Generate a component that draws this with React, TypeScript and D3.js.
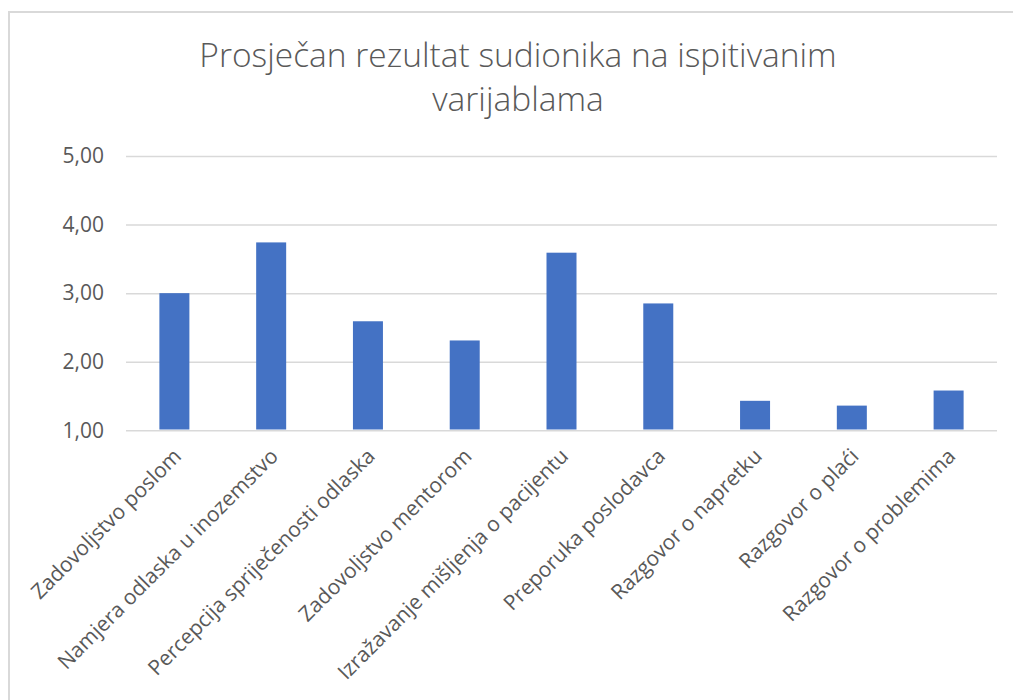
import React, { useEffect, useRef } from 'react';
import * as d3 from 'd3';

const categories = [
  'Zadovoljstvo poslom',
  'Namjera odlaska u inozemstvo',
  'Percepcija spriječenosti odlaska',
  'Zadovoljstvo mentorom',
  'Izražavanje mišljenja o pacijentu',
  'Preporuka poslodavca',
  'Razgovor o napretku',
  'Razgovor o plaći',
  'Razgovor o problemima',
];
const values = [3.0, 3.74, 2.59, 2.31, 3.59, 2.85, 1.43, 1.36, 1.58];
const yTicks = [1, 2, 3, 4, 5];
const titleLines = ['Prosječan rezultat sudionika na ispitivanim', 'varijablama'];

const App = () => {
  const svgRef = useRef<SVGSVGElement>(null);
  const width = 1013;
  const height = 700;
  const margin = { left: 126, right: 16, top: 156, bottom: 270 };

  useEffect(() => {
    const svg = d3.select(svgRef.current);
    svg.selectAll('*').remove();

    // chart frame
    svg.append('rect')
      .attr('x', 9).attr('y', 12)
      .attr('width', width + 20).attr('height', height + 20)
      .attr('fill', '#fff')
      .attr('stroke', '#d9d9d9').attr('stroke-width', 2);

    const x = d3.scaleBand()
      .domain(categories)
      .range([margin.left, width - margin.right])
      .paddingInner(0.69)
      .paddingOuter(0.345);

    const y = d3.scaleLinear()
      .domain([1, 5])
      .range([height - margin.bottom + 0.3, margin.top]);

    const font = '"Open Sans", sans-serif';

    // title
    svg.append('g')
      .selectAll('text')
      .data(titleLines)
      .enter()
      .append('text')
      .attr('x', 518)
      .attr('y', (d, i) => 67 + i * 44)
      .attr('text-anchor', 'middle')
      .attr('font-family', font)
      .attr('font-weight', 300)
      .attr('font-size', 33.5)
      .attr('fill', '#595959')
      .text(d => d);

    // gridlines + y labels
    const yAxis = d3.axisLeft(y)
      .tickValues(yTicks)
      .tickSize(-(width - margin.right - margin.left))
      .tickPadding(22)
      .tickFormat(d => d3.format('.2f')(d as number).replace('.', ','));

    const gy = svg.append('g')
      .attr('transform', `translate(${margin.left},0)`)
      .call(yAxis);
    gy.select('.domain').remove();
    gy.selectAll('.tick line').attr('stroke', '#d9d9d9').attr('stroke-width', 1.5);
    gy.selectAll('.tick text')
      .attr('font-family', font)
      .attr('font-size', 21)
      .attr('fill', '#595959');

    // bars
    svg.append('g')
      .selectAll('rect')
      .data(values)
      .enter()
      .append('rect')
      .attr('x', (d, i) => x(categories[i]) as number)
      .attr('y', d => y(d))
      .attr('width', x.bandwidth())
      .attr('height', d => y(1) - y(d) - 0.8)
      .attr('fill', '#4472c4');

    // x labels
    svg.append('g')
      .selectAll('text')
      .data(categories)
      .enter()
      .append('text')
      .attr('transform', d => `translate(${(x(d) as number) + x.bandwidth() / 2 + 3},${y(1) + 22}) rotate(-45)`)
      .attr('text-anchor', 'end')
      .attr('dy', '0.35em')
      .attr('font-family', font)
      .attr('font-size', 21)
      .attr('fill', '#595959')
      .text(d => d);
  }, []);

  return (
    <svg ref={svgRef} width={width} height={height}
      style={{ position: 'absolute', left: 0, top: 0, background: '#fff' }}></svg>
  );
};

export default App;
